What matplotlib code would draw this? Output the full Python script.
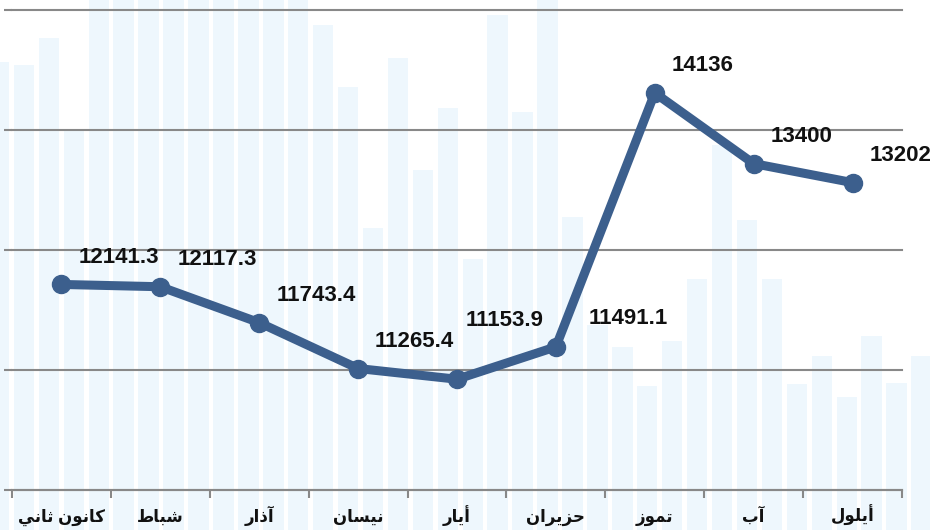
import numpy as np
import matplotlib
matplotlib.use("Agg")
import matplotlib.pyplot as plt

# monthly values
months = ["كانون ثاني", "شباط", "آذار", "نيسان", "أيار", "حزيران", "تموز", "آب", "أيلول"]
values = [12141.3, 12117.3, 11743.4, 11265.4, 11153.9, 11491.1, 14136, 13400, 13202]
value_labels = ["12141.3", "12117.3", "11743.4", "11265.4", "11153.9", "11491.1", "14136", "13400", "13202"]

# decorative background bars (height in px from the bottom of the picture)
bg_heights = [468, 465, 492, 400, 530, 530, 530, 530, 530, 530, 530, 530, 530,
              505, 443, 302, 472, 360, 422, 271, 515, 418, 530, 313, 205, 183,
              144, 189, 251, 385, 310, 251, 146, 174, 133, 194, 147, 174]

y_ticks = [10000, 11250, 12500, 13750, 15000]

# label nudges in px (dx, dy), default up-right of the point
label_off = {4: (9, 59), 5: (33, 28)}

# --- minimal arabic shaping (matplotlib has no bidi/shaping) ---
forms = {
    'ا': (0xFE8D, 0xFE8E, None, None), 'آ': (0xFE81, 0xFE82, None, None),
    'أ': (0xFE83, 0xFE84, None, None), 'ب': (0xFE8F, 0xFE90, 0xFE91, 0xFE92),
    'ت': (0xFE95, 0xFE96, 0xFE97, 0xFE98), 'ث': (0xFE99, 0xFE9A, 0xFE9B, 0xFE9C),
    'ح': (0xFEA1, 0xFEA2, 0xFEA3, 0xFEA4), 'ذ': (0xFEAB, 0xFEAC, None, None),
    'ر': (0xFEAD, 0xFEAE, None, None), 'ز': (0xFEAF, 0xFEB0, None, None),
    'س': (0xFEB1, 0xFEB2, 0xFEB3, 0xFEB4), 'ش': (0xFEB5, 0xFEB6, 0xFEB7, 0xFEB8),
    'ط': (0xFEC1, 0xFEC2, 0xFEC3, 0xFEC4), 'ك': (0xFED9, 0xFEDA, 0xFEDB, 0xFEDC),
    'ل': (0xFEDD, 0xFEDE, 0xFEDF, 0xFEE0), 'م': (0xFEE1, 0xFEE2, 0xFEE3, 0xFEE4),
    'ن': (0xFEE5, 0xFEE6, 0xFEE7, 0xFEE8), 'و': (0xFEED, 0xFEEE, None, None),
    'ي': (0xFEF1, 0xFEF2, 0xFEF3, 0xFEF4),
}

def shape(s):
    out = []
    for i, ch in enumerate(s):
        if ch not in forms:
            out.append(ch)
            continue
        prev = s[i-1] if i > 0 else None
        nxt = s[i+1] if i < len(s)-1 else None
        p = prev in forms and forms[prev][2] is not None
        n = nxt in forms and forms[ch][2] is not None
        iso, fin, ini, med = forms[ch]
        if p and n:
            c = med
        elif p:
            c = fin
        elif n:
            c = ini
        else:
            c = iso
        out.append(chr(c))
    return "".join(out[::-1])

plt.rcParams['font.family'] = ['Liberation Sans', 'DejaVu Sans']

fig = plt.figure(figsize=(9.3, 5.3), dpi=100)

# background decoration
bg = fig.add_axes([0, 0, 1, 1], zorder=0)
bg.bar(np.arange(len(bg_heights)), bg_heights, width=0.82, color='#eef7fd', linewidth=0)
bg.set_xlim(0.038, 37.34)
bg.set_ylim(0, 530)
bg.axis('off')

ax = fig.add_axes([12/930, 40/530, 890/930, 480/530], zorder=1)
ax.patch.set_visible(False)
x = np.arange(len(months))
ax.plot(x, values, color='#3c5f8d', lw=6.5, marker='o', ms=13,
        solid_joinstyle='round', solid_capstyle='round', zorder=3)

for i, (v, lab) in enumerate(zip(values, value_labels)):
    dx, dy = label_off.get(i, (17, 27))
    ax.annotate(lab, (i, v), xytext=(dx*0.72, dy*0.72), textcoords='offset points',
                ha='left', va='center', fontsize=16, fontweight='bold', color='#111111',
                zorder=4)

ax.set_xlim(-0.5, len(months) - 0.5)
ax.set_ylim(10000, 15000)
ax.set_yticks(y_ticks)
ax.set_yticklabels([])
ax.grid(axis='y', color='#888888', lw=1.5)
for gl in ax.yaxis.get_gridlines():
    gl.set_clip_on(False)
ax.set_axisbelow(True)

ax.set_xticks(np.arange(len(months) + 1) - 0.5)
ax.set_xticklabels([])
ax.set_xticks(x, minor=True)
ax.set_xticklabels([shape(m) for m in months], minor=True, fontsize=12,
                   fontweight='bold', color='#111111', va='baseline')
ax.tick_params(axis='x', which='minor', length=0, pad=23)
ax.tick_params(axis='x', which='major', length=6, width=1.5, color='#888888', direction='out')
ax.tick_params(axis='y', length=6, width=1.5, color='#888888', direction='out')

for s in ['top', 'right', 'left']:
    ax.spines[s].set_visible(False)
ax.spines['bottom'].set_color('#888888')
ax.spines['bottom'].set_linewidth(1.5)

fig.savefig("out.png", dpi=100)
